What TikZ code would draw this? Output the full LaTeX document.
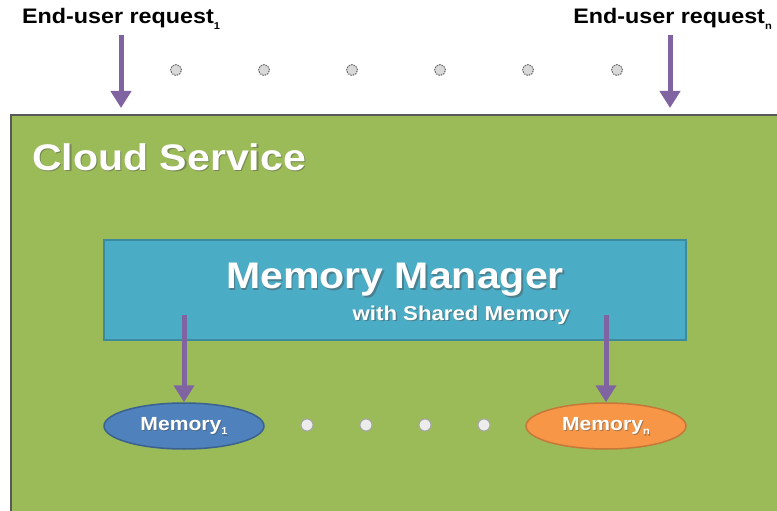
\documentclass[tikz,border=0pt]{standalone}
\usepackage{fontspec}
\setmainfont{Liberation Sans}
\newfontfamily\widefont[FakeStretch=1.11]{Liberation Sans}
\usetikzlibrary{arrows.meta,shapes.geometric}
\definecolor{cloudgreen}{HTML}{9BBB59}
\definecolor{mgrblue}{HTML}{4BACC6}
\definecolor{memblue}{HTML}{4F81BD}
\definecolor{memorange}{HTML}{F79646}
\definecolor{arrowpurple}{HTML}{8064A2}
% small lowered index
\newcommand{\idx}[1]{\raisebox{-0.25em}{\fontsize{10}{11}\selectfont #1}}
\tikzset{
  flow/.style={arrowpurple, line width=5pt,
    -{Triangle[width=20pt,length=17pt]}},
  topdot/.style={circle, minimum size=11pt, inner sep=0pt,
    fill=gray!30, draw=black!60, line width=1pt, dash pattern=on 1.6pt off 1pt},
  lowdot/.style={circle, minimum size=12pt, inner sep=0pt,
    fill=gray!15, draw=gray!70, line width=1pt},
  reqlabel/.style={font=\widefont\bfseries\fontsize{21}{24}\selectfont, text=black, inner sep=0pt},
  memnode/.style={ellipse, minimum width=160pt, minimum height=46pt,
    inner sep=0pt, line width=1.5pt},
  whitetxt/.style={text=white, inner sep=0pt},
  shadetxt/.style={text=black!70, opacity=0.45, inner sep=0pt},
  bigfont/.style={font=\widefont\bfseries\fontsize{37}{40}\selectfont},
  subfont/.style={font=\widefont\bfseries\fontsize{20}{22}\selectfont},
  memfont/.style={font=\widefont\bfseries\fontsize{19}{21}\selectfont},
}
\begin{document}
\begin{tikzpicture}[x=1pt,y=-1pt]
\useasboundingbox (0,0) rectangle (777,511);
\clip (0,0) rectangle (777,511);

% cloud service area
\draw[fill=cloudgreen, draw=black!65, line width=2pt] (11,115) rectangle (790,525);
\node[shadetxt, bigfont, anchor=west] at (33.5,158.5) {Cloud Service};
\node[whitetxt, bigfont, anchor=west] (cloud) at (32,157) {Cloud Service};

% memory manager
\draw[fill=mgrblue, draw=mgrblue!80!black, line width=1.5pt] (104,240) rectangle (686,340);
\node[shadetxt, bigfont] at (396.5,281.5) {Memory Manager};
\node[whitetxt, bigfont] (mgrtitle) at (395,280) {Memory Manager};
\node[shadetxt, subfont, anchor=east] at (571.5,316.5) {with Shared Memory};
\node[whitetxt, subfont, anchor=east] (mgrsub) at (570,315) {with Shared Memory};

% memories
\node[memnode, fill=memblue, draw=memblue!75!black] (mem1) at (184,426) {};
\node[shadetxt, memfont] at (185,427.5) {Memory\idx{1}};
\node[whitetxt, memfont] at (184,426) {Memory\idx{1}};
\node[memnode, fill=memorange, draw=memorange!80!black] (memn) at (606,426) {};
\node[shadetxt, memfont] at (607,427.5) {Memory\idx{n}};
\node[whitetxt, memfont] at (606,426) {Memory\idx{n}};

\foreach \x [count=\i] in {307,366,425,484}
  \node[lowdot] (md\i) at (\x,425) {};

% requests
\node[reqlabel, anchor=west] (req1) at (22,19) {End-user request\idx{1}};
\node[reqlabel, anchor=east] (reqn) at (772,19) {End-user request\idx{n}};
\foreach \x [count=\i] in {176,264,352,440,528,617}
  \node[topdot] (rd\i) at (\x,70) {};

% flows
\coordinate (r1top) at (121,35);
\coordinate (r1bot) at (121,108);
\coordinate (rntop) at (670,35);
\coordinate (rnbot) at (670,108);
\draw[flow] (r1top) -- (r1bot);
\draw[flow] (rntop) -- (rnbot);
\coordinate (m1top) at (184,315);
\coordinate (mntop) at (606,315);
\draw[flow] (m1top) -- (mem1.north);
\draw[flow] (mntop) -- (memn.north);
\end{tikzpicture}
\end{document}
